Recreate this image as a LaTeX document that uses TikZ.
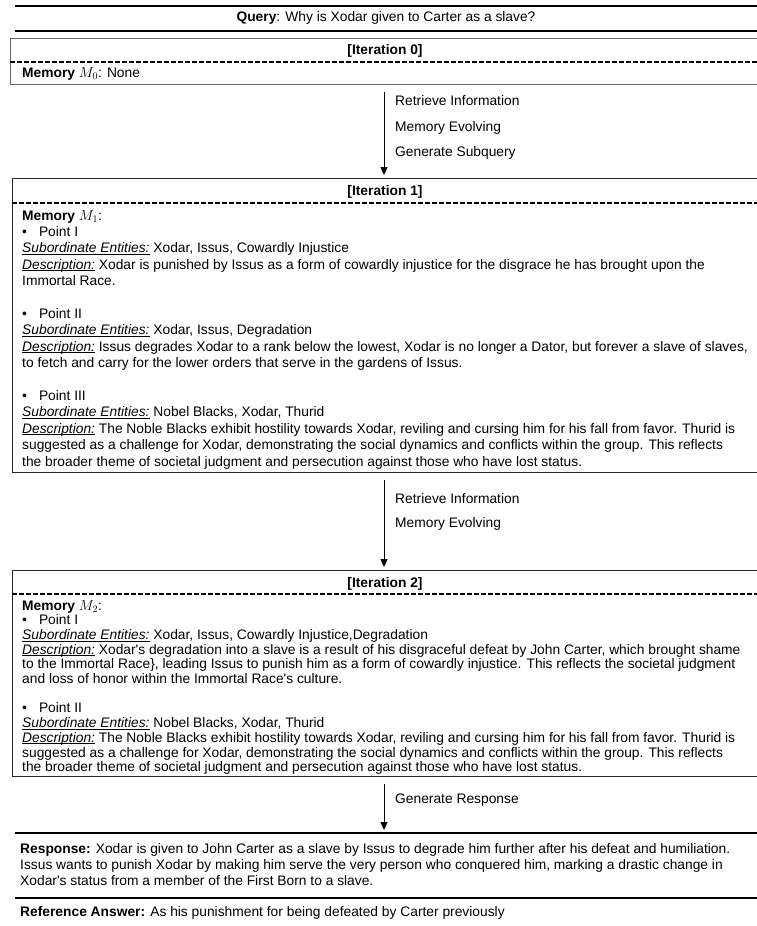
\documentclass[tikz,border=0pt]{standalone}
\usepackage{fontspec}
\setmainfont{Liberation Sans}[Ligatures=TeXOff]
\usetikzlibrary{calc,positioning,arrows.meta}
\newsavebox\ulbox
\newcommand{\ulin}[1]{\sbox\ulbox{#1}\rlap{\rule[-1.7pt]{\wd\ulbox}{0.6pt}}\usebox\ulbox}
\newcommand{\subent}{\ulin{\textit{Subordinate Entities:}}}
\newcommand{\descr}{\ulin{\textit{Description:}}}
\newcommand{\pointitem}[1]{\textbullet\hspace{12pt}#1}
\tikzset{
	txt/.style={anchor=north west, inner sep=0pt, align=left, font=\fontsize{13.8}{16.4}\selectfont},
	hdr/.style={inner sep=0pt, font=\fontsize{13.8}{16}\selectfont\bfseries},
	lbl/.style={anchor=west, inner sep=0pt, font=\fontsize{13.8}{16}\selectfont},
	itbox/.style={draw=black!85, line width=0.8pt, anchor=north west, inner sep=0pt, minimum width=748pt},
	sep/.style={line width=1.2pt, dash pattern=on 5pt off 2pt},
	rule/.style={line width=1.8pt},
	flow/.style={line width=0.8pt, -{Triangle[length=8pt,width=7pt]}, shorten <=7pt, shorten >=3pt}
}

\begin{document}
\begin{tikzpicture}[x=1pt, y=-1pt]
		%%%%% START %%%%%
		\useasboundingbox (0,0) rectangle (757,926);
		
		% query
		\draw[rule] (15,6) -- (760,6);
		\node[lbl, anchor=center] (query) at (386,18) {\textbf{Query}: Why is Xodar given to Carter as a slave?};
		\draw[rule] (15,31) -- (760,31);
		
		% iteration 0
		\node[itbox, minimum height=46pt, draw=black!60] (box0) at (10,38) {};
		\node[hdr] (head0) at (385,51) {[Iteration 0]};
		\draw[sep] (10,62) -- (760,62);
		\node[txt] (mem0) at (22,67) {\textbf{Memory} $M_0$: None};
		
		% iteration 1
		\node[itbox, minimum height=294pt] (box1) at (12,178) {};
		\node[hdr] (head1) at (385,192) {[Iteration 1]};
		\draw[sep] (12,203) -- (760,203);
		\node[txt] (mem1) at (22,210) {\textbf{Memory} $M_1$:\\
			\pointitem{Point I}\\
			\subent{} Xodar, Issus, Cowardly Injustice\\
			\descr{} Xodar is punished by Issus as a form of cowardly injustice for the disgrace he has brought upon the\\
			Immortal Race.\\[16.4pt]
			\pointitem{Point II}\\
			\subent{} Xodar, Issus, Degradation\\
			\descr{} Issus degrades Xodar to a rank below the lowest, Xodar is no longer a Dator, but forever a slave of slaves,\\
			to fetch and carry for the lower orders that serve in the gardens of Issus.\\[16.4pt]
			\pointitem{Point III}\\
			\subent{} Nobel Blacks, Xodar, Thurid\\
			\descr{} The Noble Blacks exhibit hostility towards Xodar, reviling and cursing him for his fall from favor. Thurid is\\
			suggested as a challenge for Xodar, demonstrating the social dynamics and conflicts within the group. This reflects\\
			the broader theme of societal judgment and persecution against those who have lost status.};
		
		% iteration 2
		\node[itbox, minimum height=206pt, line width=1pt] (box2) at (12,570) {};
		\node[hdr] (head2) at (385,584) {[Iteration 2]};
		\draw[sep] (12,594) -- (760,594);
		\node[txt, font=\fontsize{13.8}{14.7}\selectfont] (mem2) at (22,600) {\textbf{Memory} $M_2$:\\
			\pointitem{Point I}\\
			\subent{} Xodar, Issus, Cowardly Injustice,Degradation\\
			\descr{} Xodar's degradation into a slave is a result of his disgraceful defeat by John Carter, which brought shame\\
			to the Immortal Race\}, leading Issus to punish him as a form of cowardly injustice. This reflects the societal judgment\\
			and loss of honor within the Immortal Race's culture.\\[14.7pt]
			\pointitem{Point II}\\
			\subent{} Nobel Blacks, Xodar, Thurid\\
			\descr{} The Noble Blacks exhibit hostility towards Xodar, reviling and cursing him for his fall from favor. Thurid is\\
			suggested as a challenge for Xodar, demonstrating the social dynamics and conflicts within the group. This reflects\\
			the broader theme of societal judgment and persecution against those who have lost status.};
		
		% response
		\coordinate (resptop) at (384,833);
		\draw[rule] (15,833) -- (760,833);
		\node[txt, font=\fontsize{13.8}{16.3}\selectfont] (resp) at (20,843) {\textbf{Response:} Xodar is given to John Carter as a slave by Issus to degrade him further after his defeat and humiliation.\\
			Issus wants to punish Xodar by making him serve the very person who conquered him, marking a drastic change in\\
			Xodar's status from a member of the First Born to a slave.};
		\draw[rule] (15,898) -- (760,898);
		\node[txt] (refans) at (20,906) {\textbf{Reference Answer:} As his punishment for being defeated by Carter previously};
		
		% arrows
		\draw[flow] (box0.south -| 384,0) -- (box1.north -| 384,0);
		\node[lbl] (ret1) at (395,101) {Retrieve Information};
		\node[lbl] (evo1) at (395,128) {Memory Evolving};
		\node[lbl] (gen1) at (395,153) {Generate Subquery};
		
		\draw[flow] (box1.south -| 384,0) -- (box2.north -| 384,0);
		\node[lbl] (ret2) at (395,499) {Retrieve Information};
		\node[lbl] (evo2) at (395,524) {Memory Evolving};
		
		\draw[flow] (box2.south -| 384,0) -- (resptop);
		\node[lbl] (gen2) at (395,800) {Generate Response};
		%%%%% END %%%%%
\end{tikzpicture}
\end{document}
